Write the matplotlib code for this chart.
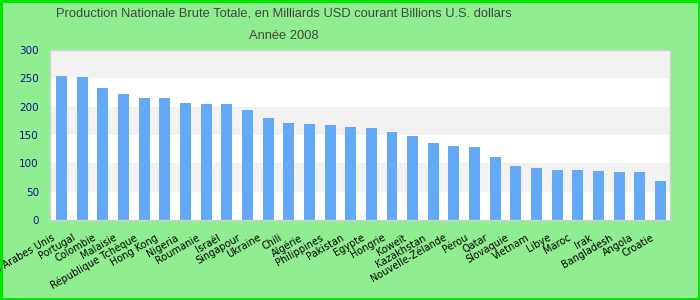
import matplotlib
matplotlib.use("Agg")
import matplotlib.pyplot as plt
from matplotlib.transforms import ScaledTranslation
import numpy as np

# PNB 2008, milliards USD courants
pays = ["Emirats Arabes Unis", "Portugal", "Colombie", "Malaisie",
        "République Tchèque", "Hong Kong", "Nigeria", "Roumanie", "Israël",
        "Singapour", "Ukraine", "Chili", "Algérie", "Philippines", "Pakistan",
        "Egypte", "Hongrie", "Koweït", "Kazakhstan", "Nouvelle-Zélande",
        "Pérou", "Qatar", "Slovaquie", "Vietnam", "Libye", "Maroc", "Irak",
        "Bangladesh", "Angola", "Croatie"]
pnb = [254, 252, 233, 223, 216, 216, 207, 205, 204, 195,
       180, 172, 170, 168, 165, 163, 156, 149, 136, 131,
       128, 112, 96, 91, 89, 89, 87, 85, 85, 69]
yticks = [0, 50, 100, 150, 200, 250, 300]

fig = plt.figure(figsize=(7, 3), dpi=100)
fig.patch.set_facecolor("#90ee90")
fig.patch.set_edgecolor("#00e600")
fig.patch.set_linewidth(2.5)

ax = fig.add_axes([50 / 700, 80 / 300, 620 / 700, 170 / 300])
ax.set_facecolor("white")

# alternating bands
for lo, hi in zip(yticks[1::2], yticks[2::2]):
    ax.axhspan(lo, hi, color="#f2f2f2", zorder=0, lw=0)

x = np.arange(len(pays))
ax.bar(x, pnb, width=0.53, color="#63a9f5", zorder=2)

ax.set_xlim(-0.56, len(pays) - 0.54)
ax.set_ylim(0, 300)
ax.set_yticks(yticks)
ax.tick_params(axis="y", length=0, pad=8, labelsize=7.5, labelcolor="#14148c")
ax.tick_params(axis="x", length=0, pad=9)
ax.set_xticks(x)
ax.set_xticklabels(pays, rotation=30, ha="right", va="top",
                   rotation_mode="anchor", fontsize=7, color="black")
shift = ScaledTranslation(-10 / 100, 0, fig.dpi_scale_trans)
for lab in ax.get_xticklabels():
    lab.set_transform(lab.get_transform() + shift)

for sp in ax.spines.values():
    sp.set_color("#d0d0d0")
    sp.set_linewidth(1)

fig.text(284 / 700, 1 - 8 / 300,
         "Production Nationale Brute Totale, en Milliards USD courant Billions U.S. dollars\nAnnée 2008",
         ha="center", va="top", fontsize=9.3, color="#444444", linespacing=2.15,
         family=["Liberation Sans", "DejaVu Sans"])

fig.savefig("out.png", dpi=100, facecolor=fig.get_facecolor(),
            edgecolor=fig.get_edgecolor())
